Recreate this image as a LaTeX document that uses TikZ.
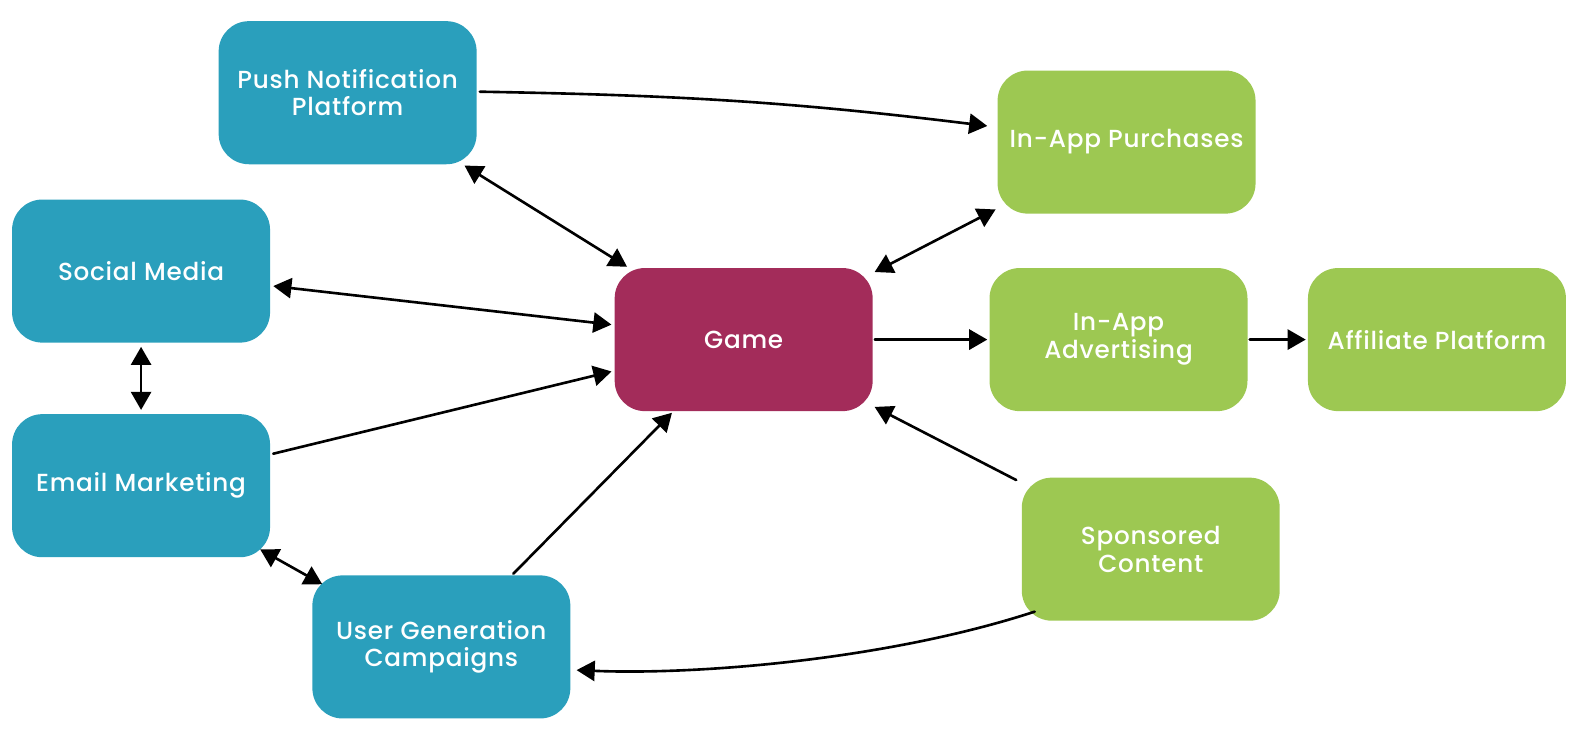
\documentclass[tikz,border=0pt]{standalone}
\usepackage{fontspec}
\setmainfont{Poppins}[UprightFont={* Medium},LetterSpace=3]
\usetikzlibrary{arrows.meta}
\definecolor{cblue}{HTML}{2A9FBC}
\definecolor{cgreen}{HTML}{9DC852}
\definecolor{cred}{HTML}{A32C5A}
\begin{document}
\begin{tikzpicture}[x=1pt,y=1pt,
  box/.style={rounded corners=30pt, minimum width=256pt, minimum height=142pt,
    inner sep=0pt, text=white, align=center, font=\fontsize{24.5}{27.5}\selectfont},
  bluebox/.style={box, fill=cblue},
  greenbox/.style={box, fill=cgreen},
  redbox/.style={box, fill=cred},
  conn/.style={line width=2.6pt, black, line cap=round},
  tip/.style={-{Triangle[length=18pt,width=20pt]}},
  tips/.style={{Triangle[length=18pt,width=20pt]}-{Triangle[length=18pt,width=20pt]}}
]
\useasboundingbox (0,0) rectangle (1566,-723);
\node[bluebox] (push) at (345,-92) {Push Notification\\Platform};
\node[bluebox] (social) at (140,-269) {Social Media};
\node[bluebox] (email) at (140,-482) {Email Marketing};
\node[bluebox] (ugc) at (438,-642) {User Generation\\Campaigns};
\node[redbox] (game) at (738,-337) {Game};
\node[greenbox] (iap) at (1118,-141) {In-App Purchases};
\node[greenbox] (ads) at (1110,-337) {In-App\\Advertising};
\node[greenbox] (aff) at (1426,-337) {Affiliate Platform};
\node[greenbox] (spon) at (1142,-545) {Sponsored\\Content};

\coordinate (sponout) at ([xshift=13pt,yshift=-62pt]spon.west);
\coordinate (ugcin) at ([xshift=6pt,yshift=-23pt]ugc.east);

\draw[conn,tip] ([yshift=1pt,xshift=3pt]push.east) to[out=-1,in=173] ([yshift=16pt,xshift=-10pt]iap.west);
\draw[conn,tips,shorten <=2pt,shorten >=2pt] (push) -- (game);
\draw[conn,tips,shorten <=3pt,shorten >=3pt] (social) -- (game);
\draw[conn,tips,shorten <=4pt,shorten >=4pt] (social) -- (email);
\draw[conn,tip,shorten <=3pt,shorten >=3pt] (email) -- (game);
\draw[conn,tips] ([xshift=-10pt,yshift=8pt]email.south east) -- ([xshift=10pt,yshift=-9pt]ugc.north west);
\draw[conn,tip,shorten <=2pt,shorten >=2pt] (ugc) -- (game);
\draw[conn,tips,shorten <=2pt,shorten >=2pt] (game) -- (iap);
\draw[conn,tip,shorten <=2pt,shorten >=2pt] (game) -- (ads);
\draw[conn,tip,shorten <=2pt,shorten >=2pt] (ads) -- (aff);
\draw[conn,tip,shorten <=6pt,shorten >=2pt] (spon) -- (game);
\draw[conn,tip] (sponout) .. controls ([xshift=-147pt,yshift=-48pt]sponout) and ([xshift=118pt,yshift=-5pt]ugcin) .. (ugcin);
\end{tikzpicture}
\end{document}
